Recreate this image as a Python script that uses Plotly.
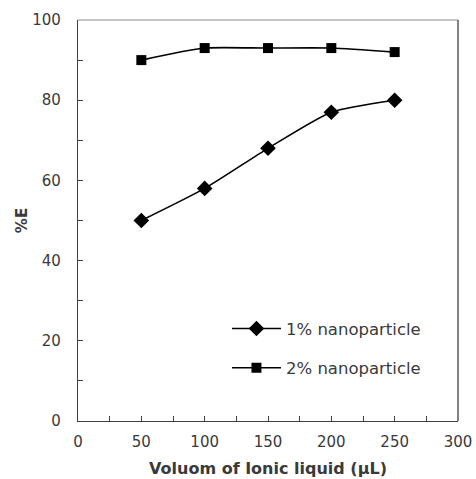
import plotly.graph_objects as go

volume = [50, 100, 150, 200, 250]
e_1pct = [50, 58, 68, 77, 80]
e_2pct = [90, 93, 93, 93, 92]
x_ticks = [0, 50, 100, 150, 200, 250, 300]
y_ticks = [0, 20, 40, 60, 80, 100]

FONT = "DejaVu Sans"
TXT = "#3a3a3a"

fig = go.Figure()
fig.add_trace(go.Scatter(
    x=volume, y=e_1pct, mode="lines+markers", name="1% nanoparticle",
    line=dict(color="black", width=1.6, shape="spline", smoothing=0.6),
    marker=dict(symbol="diamond", size=12, color="black"),
    legend="legend"))
fig.add_trace(go.Scatter(
    x=volume, y=e_2pct, mode="lines+markers", name="2% nanoparticle",
    line=dict(color="black", width=1.6, shape="spline", smoothing=0.6),
    marker=dict(symbol="square", size=10, color="black"),
    legend="legend2"))

axis_common = dict(
    showgrid=False, zeroline=False, showline=True, linecolor="#404040", linewidth=1.3,
    ticks="inside", ticklen=5, tickcolor="#404040", tickwidth=1,
    tickfont=dict(family=FONT, size=15, color=TXT), automargin=False,
)

fig.update_xaxes(range=[0, 300], tickvals=x_ticks, ticklabelstandoff=7,
                 minor=dict(ticks="inside", ticklen=5, dtick=25, tickcolor="#404040"),
                 title=dict(text="Voluom of Ionic liquid (µL)",
                            font=dict(family=FONT, size=16, color=TXT, weight="bold"),
                            standoff=12),
                 **axis_common)
fig.update_yaxes(range=[0, 100], tickvals=y_ticks, ticklabelstandoff=13,
                 minor=dict(ticks="inside", ticklen=5, dtick=10, tickcolor="#404040"),
                 title=dict(text="%E",
                            font=dict(family=FONT, size=15, color=TXT, weight="bold"),
                            standoff=0),
                 **axis_common)

leg_common = dict(xanchor="left", yanchor="middle", bgcolor="rgba(0,0,0,0)",
                  font=dict(family=FONT, size=16.5, color=TXT), itemwidth=49)
fig.update_layout(
    width=476, height=479,
    margin=dict(l=78, r=18, t=20, b=58),
    paper_bgcolor="white", plot_bgcolor="white",
    showlegend=True,
    legend=dict(x=0.392, y=0.23, **leg_common),
    legend2=dict(x=0.392, y=0.132, **leg_common),
    shapes=[
        dict(type="line", xref="paper", yref="paper", x0=0, x1=1, y0=1, y1=1,
             line=dict(color="#8a8a8a", width=1.2)),
        dict(type="line", xref="paper", yref="paper", x0=1, x1=1, y0=0, y1=1,
             line=dict(color="#404040", width=1.3)),
    ],
)

fig.write_html("out.html")
